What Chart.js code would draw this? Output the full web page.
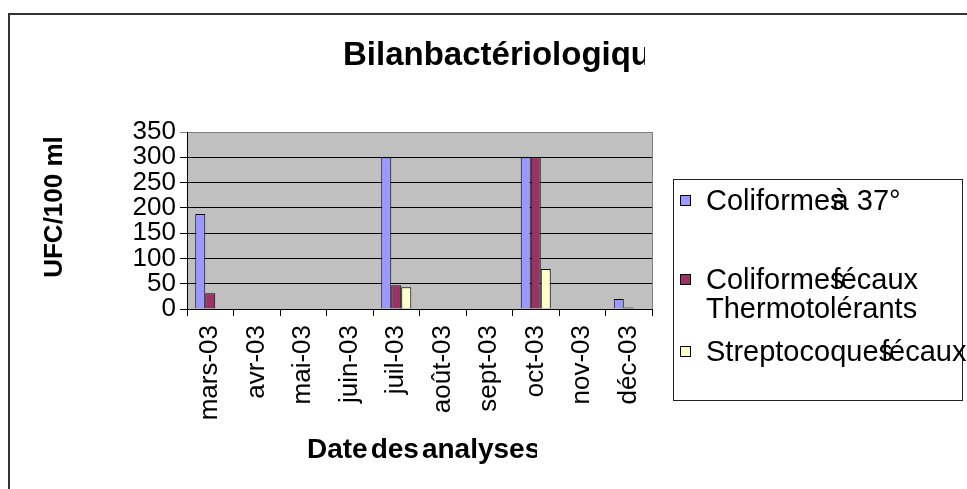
<!DOCTYPE html>
<html>
<head>
<meta charset="utf-8">
<script src="https://cdn.jsdelivr.net/npm/chart.js@4"></script>
<style>
  html, body { margin: 0; padding: 0; background: #fff; }
  #wrap { width: 967px; height: 489px; }
</style>
</head>
<body>
<div id="wrap"><canvas id="chart" width="967" height="489"></canvas></div>
<script>
// values
const months = ["mars-03", "avr-03", "mai-03", "juin-03", "juil-03", "août-03", "sept-03", "oct-03", "nov-03", "déc-03"];
const coliformes37 = [188, null, null, null, 300, null, null, 300, null, 20];
const coliformesFecaux = [31, null, null, null, 47, null, null, 300, null, 3];
const streptocoques = [null, null, null, null, 43, null, null, 79, null, null];
const yMax = 350;
const yStep = 50;

const seriesNames = ["Coliformes à 37°", "Coliformes fécaux Thermotolérants", "Streptocoques fécaux"];
const legendLines = [["Coliformes à 37°"], ["Coliformes fécaux", "Thermotolérants"], ["Streptocoques fécaux"]];
const seriesColors = ["#9999ff", "#993366", "#ffffcc"];

const FONT = "'Liberation Sans', Arial, sans-serif";

// text drawn with the first space squeezed (as in the picture)
function squeezed(ctx, text, x, y, overlap) {
    const i = text.indexOf(" ");
    if (i < 0) { ctx.fillText(text, x, y); return; }
    const first = text.slice(0, i);
    ctx.fillText(first, x, y);
    ctx.fillText(text.slice(i + 1), x + ctx.measureText(first).width - overlap, y);
}

const decor = {
    id: "decor",
    beforeDraw(chart) {
        const { ctx, chartArea: a, width, height } = chart;
        ctx.save();
        ctx.fillStyle = "#fff";
        ctx.fillRect(0, 0, width, height);
        ctx.fillStyle = "#c0c0c0";
        ctx.fillRect(a.left, a.top, a.right - a.left, a.bottom - a.top);
        ctx.restore();
    },
    afterDraw(chart) {
        const { ctx, chartArea: a, width, height } = chart;
        ctx.save();
        // outer frame
        ctx.strokeStyle = "#333";
        ctx.lineWidth = 2;
        ctx.beginPath();
        ctx.moveTo(9, height); ctx.lineTo(9, 14); ctx.lineTo(width, 14);
        ctx.stroke();

        // plot area right border
        ctx.strokeStyle = "#808080";
        ctx.lineWidth = 1;
        ctx.beginPath();
        ctx.moveTo(Math.round(a.right) + 0.5, a.top); ctx.lineTo(Math.round(a.right) + 0.5, a.bottom);
        ctx.stroke();

        ctx.fillStyle = "#000";
        ctx.textBaseline = "alphabetic";
        ctx.textAlign = "left";

        // title (clipped like the picture)
        ctx.save();
        ctx.beginPath(); ctx.rect(0, 0, 645, height); ctx.clip();
        ctx.font = "bold 33px " + FONT;
        squeezed(ctx, "Bilan bactériologique", 343, 65, 0);
        ctx.restore();

        // x axis title
        ctx.save();
        ctx.beginPath(); ctx.rect(0, 0, 537, height); ctx.clip();
        ctx.font = "bold 28px " + FONT;
        let x = 307;
        for (const w of ["Date", "des", "analyses"]) {
            ctx.fillText(w, x, 458);
            x += ctx.measureText(w).width + 3;
        }
        ctx.restore();

        // y axis title
        ctx.save();
        ctx.translate(62, 207);
        ctx.rotate(-Math.PI / 2);
        ctx.textAlign = "center";
        ctx.font = "bold 26px " + FONT;
        ctx.fillText("UFC/100 ml", 0, 0);
        ctx.restore();

        // legend
        ctx.strokeStyle = "#222";
        ctx.lineWidth = 1;
        ctx.strokeRect(673.5, 179.5, 289, 221);
        ctx.font = "29px " + FONT;
        const rows = [210, 289, 361];
        chart.data.datasets.forEach((ds, i) => {
            const y = rows[i];
            ctx.fillStyle = ds.backgroundColor;
            ctx.fillRect(680, y - 15, 11, 11);
            ctx.strokeStyle = "#000";
            ctx.strokeRect(680.5, y - 14.5, 10, 10);
            ctx.fillStyle = "#000";
            legendLines[i].forEach((line, k) => squeezed(ctx, line, 706, y + k * 29, 12));
        });
        ctx.restore();
    }
};

new Chart(document.getElementById("chart"), {
    type: "bar",
    data: {
        labels: months,
        datasets: [
            { label: seriesNames[0], data: coliformes37, backgroundColor: seriesColors[0] },
            { label: seriesNames[1], data: coliformesFecaux, backgroundColor: seriesColors[1] },
            { label: seriesNames[2], data: streptocoques, backgroundColor: seriesColors[2] }
        ]
    },
    options: {
        responsive: false,
        animation: false,
        events: [],
        layout: { padding: { top: 132, right: 315, left: 0, bottom: 0 } },
        datasets: {
            bar: { borderColor: "#000", borderWidth: 1, categoryPercentage: 0.645, barPercentage: 1 }
        },
        plugins: { legend: { display: false }, title: { display: false }, tooltip: { enabled: false } },
        scales: {
            x: {
                afterFit: s => { s.height = 180; },
                grid: { offset: true, drawOnChartArea: false, tickLength: 7, color: "#000" },
                border: { color: "#000" },
                ticks: {
                    autoSkip: false, minRotation: 90, maxRotation: 90, padding: 9,
                    color: "#000", font: { family: FONT, size: 26 }
                }
            },
            y: {
                min: 0, max: yMax,
                afterFit: s => { s.width = 187; },
                grid: { tickLength: 7, color: c => (c.tick && c.tick.value === yMax ? "#808080" : "#000") },
                border: { color: "#000" },
                ticks: { autoSkip: false, stepSize: yStep, padding: 4, color: "#000", font: { family: FONT, size: 26 } }
            }
        }
    },
    plugins: [decor]
});
</script>
</body>
</html>
